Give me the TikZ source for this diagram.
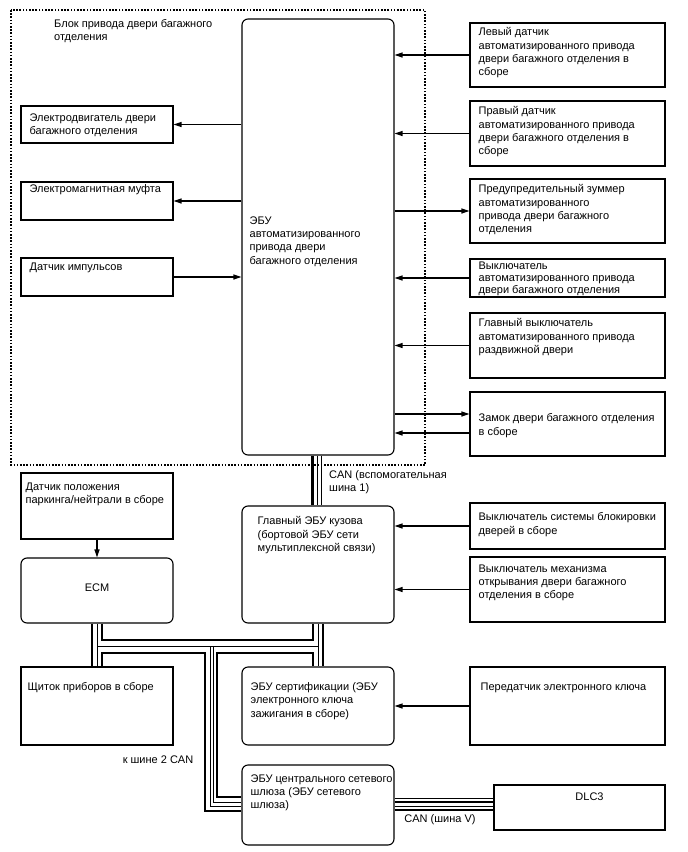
\documentclass[tikz,border=0pt]{standalone}
\usepackage{fontspec}
\setmainfont{Liberation Sans}
\usetikzlibrary{arrows.meta,fit}

\begin{document}
\begin{tikzpicture}[x=1pt, y=-1pt,
        box/.style={draw, line width=1.1pt, inner sep=0pt},
        ecubox/.style={box, rounded corners=6pt},
        txt/.style={anchor=north west, align=left, inner sep=0pt, font=\fontsize{11}{13.3}\selectfont},
        arr/.style={line width=1.3pt, -{Triangle[length=8pt,width=5pt]}},
        thickbus/.style={line width=2.8pt},
        thinbus/.style={line width=0.9pt}]
    \useasboundingbox (0,0) rectangle (688,852);
    \draw[line width=1.2pt, dash pattern=on 1.6pt off 1.6pt] (11,10) rectangle (425,465);
    \foreach \nm/\xa/\ya/\xb/\yb in {motor/21/106/173/143, clutch/21/182/173/220, pulse/21/258/173/296,
            lsens/470/23/665/87, rsens/470/101/665/166, buzz/470/179/665/243, sw/470/259/665/297,
            mainsw/470/313/665/378, lock/470/392/665/456, pnsens/21/473/173/539, locksw/470/503/665/549,
            opensw/470/557/665/622, meter/21/667/173/745, trans/470/667/665/745, dlc/494/785/665/830}
        \node[box, fit={(\xa,\ya) (\xb,\yb)}] (\nm) {};
    \foreach \nm/\xa/\ya/\xb/\yb in {ecu/242/19/394/455, ecm/21/558/173/623, body/242/506/394/623,
            cert/242/667/394/745, gw/242/765/394/845}
        \node[ecubox, fit={(\xa,\ya) (\xb,\yb)}] (\nm) {};
    \foreach \nm/\dx/\dy/\txt in {
            motor/9/8/{Электродвигатель двери\\багажного отделения},
            clutch/9/3/{Электромагнитная муфта},
            pulse/9/5/{Датчик импульсов},
            lsens/9/5/{Левый датчик\\автоматизированного привода\\двери багажного отделения в\\сборе},
            rsens/9/6/{Правый датчик\\автоматизированного привода\\двери багажного отделения в\\сборе},
            buzz/9/6/{Предупредительный зуммер\\автоматизированного\\привода двери багажного\\отделения},
            mainsw/9/6/{Главный выключатель\\автоматизированного привода\\раздвижной двери},
            lock/9/22/{Замок двери багажного отделения\\в сборе},
            ecu/8/198/{ЭБУ\\автоматизированного\\привода двери\\багажного отделения},
            pnsens/5/10/{Датчик положения\\паркинга/нейтрали в сборе},
            body/16/11/{Главный ЭБУ кузова\\(бортовой ЭБУ сети\\мультиплексной связи)},
            locksw/9/10/{Выключатель системы блокировки\\дверей в сборе},
            opensw/9/8/{Выключатель механизма\\открывания двери багажного\\отделения в сборе},
            meter/7/16/{Щиток приборов в сборе},
            cert/9/16/{ЭБУ сертификации (ЭБУ\\электронного ключа\\зажигания в сборе)},
            trans/11/16/{Передатчик электронного ключа},
            gw/9/10/{ЭБУ центрального сетевого\\шлюза (ЭБУ сетевого\\шлюза)}}
        \node[txt] (\nm-t) at ([shift={(\dx,\dy)}]\nm.north west) {\txt};
    \node[txt, font=\fontsize{11}{12.2}\selectfont] (sw-t) at ([shift={(9,3)}]sw.north west)
        {Выключатель\\автоматизированного привода\\двери багажного отделения};
    \node[txt] (title) at (54,19) {Блок привода двери багажного\\отделения};
    \node[txt, anchor=center] (ecm-t) at ([yshift=2.5pt]ecm.center) {ECM};
    \node[txt, anchor=center] (dlc-t) at ([shift={(10,12)}]dlc.north) {DLC3};
    \node[txt] (can1) at (329,470) {CAN (вспомогательная\\шина 1)};
    \node[txt, anchor=center] (can2) at (158,760) {к шине 2 CAN};
    \node[txt, anchor=center] (canv) at (440,820) {CAN (шина V)};

    \draw[arr] (ecu.west |- motor.east) -- (motor.east);
    \draw[arr] (ecu.west |- clutch.east) -- (clutch.east);
    \draw[arr] (pulse.east) -- (ecu.west |- pulse.east);
    \foreach \nm in {lsens, rsens, sw, mainsw}
        \draw[arr] (\nm.west) -- (ecu.east |- \nm.west);
    \draw[arr] (ecu.east |- buzz.west) -- (buzz.west);
    \coordinate (lockout) at ([yshift=10pt]lock.west);
    \coordinate (lockin) at ([yshift=-9pt]lock.west);
    \draw[arr] (ecu.east |- lockout) -- (lockout);
    \draw[arr] (lockin) -- (ecu.east |- lockin);
    \draw[arr] (pnsens.south) -- (ecm.north);
    \draw[arr] (locksw.west) -- (body.east |- locksw.west);
    \draw[arr] (opensw.west) -- (body.east |- opensw.west);
    \draw[arr] (trans.west) -- (cert.east |- trans.west);

    \foreach \dx/\st in {-5.5/thickbus, -1/thinbus, 3.5/thinbus}
        \draw[\st] ([xshift=\dx pt]ecu.south) -- ([xshift=\dx pt]body.north);
    \coordinate (busa) at (0,640);
    \coordinate (busb) at (0,646);
    \coordinate (busc) at (0,653);
    \coordinate (va) at (205,0);
    \coordinate (vb) at (210,0);
    \coordinate (vc) at (213.5,0);
    \coordinate (vd) at (217,0);
    \coordinate (e1) at ([xshift=5pt]ecm.south);
    \coordinate (b1) at ([xshift=-5pt]body.south);
    \coordinate (m1) at ([xshift=5pt]meter.north);
    \coordinate (c1) at ([xshift=-5pt]cert.north);
    \coordinate (g1) at ([yshift=8pt]gw.west);
    \coordinate (g2) at ([yshift=3pt]gw.west);
    \coordinate (g3) at ([yshift=-1pt]gw.west);
    \coordinate (g4) at ([yshift=-6pt]gw.west);
    \draw[thickbus] ([xshift=-5pt]ecm.south) -- ([xshift=-5pt]meter.north);
    \draw[thinbus] (ecm.south) -- (meter.north);
    \draw[thinbus] (body.south) -- (cert.north);
    \draw[thickbus] ([xshift=5pt]body.south) -- ([xshift=5pt]cert.north);
    \draw[thinbus] (ecm.south |- busb) -- (body.south |- busb);
    \draw[thickbus] (e1) -- (e1 |- busa) -- (b1 |- busa) -- (b1);
    \draw[thickbus] (m1) -- (m1 |- busc) -- (va |- busc) -- (va |- g4) -- (g4);
    \draw[thickbus] (c1) -- (c1 |- busc) -- (vd |- busc) -- (vd |- g1) -- (g1);
    \draw[thinbus] (vb |- busb) -- (vb |- g3) -- (g3);
    \draw[thinbus] (vc |- busb) -- (vc |- g2) -- (g2);
    \foreach \dy/\st in {7/thinbus, 3/thickbus, -1/thinbus, -5/thickbus} {
        \coordinate (d) at ([yshift=\dy pt]gw.east);
        \draw[\st] (d) -- (dlc.west |- d);
    }
\end{tikzpicture}
\end{document}
